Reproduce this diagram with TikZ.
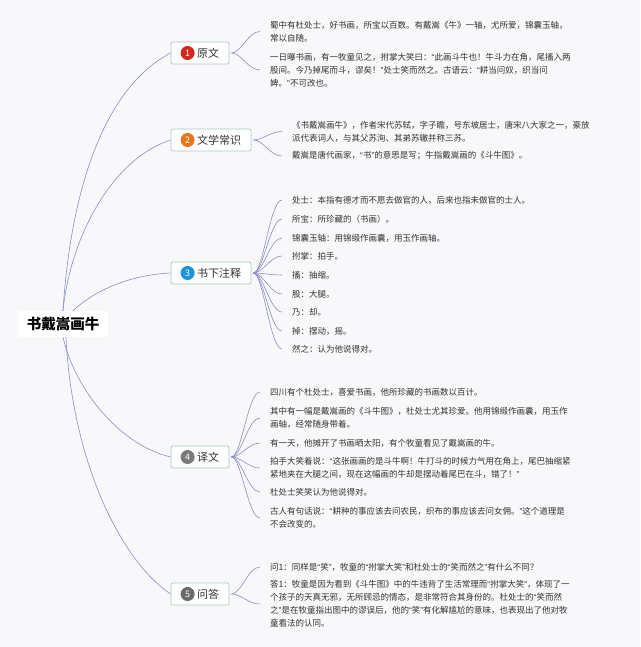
\documentclass[tikz,border=0pt]{standalone}
\usepackage{fontspec}
\setmainfont{Noto Sans CJK SC}
\newfontfamily\quotefont{Liberation Sans}
\newcommand{\myoq}{{\quotefont “}}
\newcommand{\mycq}{{\quotefont ”}}
\definecolor{linec}{HTML}{8A90C2}
\definecolor{boxc}{HTML}{A9CBC3}
\definecolor{textc}{HTML}{333333}
\definecolor{bgc}{HTML}{F8F8FA}
\definecolor{c1}{HTML}{D42A1E}
\definecolor{c2}{HTML}{E8761E}
\definecolor{c3}{HTML}{1B93DB}
\definecolor{c4}{HTML}{7A7A7A}
\definecolor{c5}{HTML}{6B6B6B}
\begin{document}
\begin{tikzpicture}[x=1pt,y=-1pt,
  conn/.style={draw=linec, line width=0.6pt},
  branch/.style={draw=boxc, fill=white, rounded corners=2pt, line width=0.8pt, inner xsep=10pt, inner ysep=0pt, minimum height=22pt, font=\fontsize{11}{13}\selectfont, text=textc},
  badge/.style={circle, inner sep=0pt, minimum size=14pt, text=white, font=\fontsize{9}{9}\selectfont},
  leaf/.style={anchor=west, align=left, inner sep=0pt, font=\fontsize{8.5}{13}\selectfont, text=textc},
]
\fill[bgc] (0,0) rectangle (640,647);
\useasboundingbox (0,0) rectangle (640,647);

% root
\node[fill=white, minimum width=90pt, minimum height=26pt, inner sep=0pt, text=black, font=\bfseries\fontsize{14.5}{16}\selectfont] (root) at (63,324) {书戴嵩画牛};

% branches
\node[branch] (b1) at (200,53) {\hspace{16pt}原文};
\node[badge, fill=c1] (n1) at ([xshift=17pt]b1.west) {1};
\node[branch] (b2) at (211,140) {\hspace{16pt}文学常识};
\node[badge, fill=c2] (n2) at ([xshift=17pt]b2.west) {2};
\node[branch] (b3) at (211,273) {\hspace{16pt}书下注释};
\node[badge, fill=c3] (n3) at ([xshift=17pt]b3.west) {3};
\node[branch] (b4) at (200,457) {\hspace{16pt}译文};
\node[badge, fill=c4] (n4) at ([xshift=17pt]b4.west) {4};
\node[branch] (b5) at (200,594) {\hspace{16pt}问答};
\node[badge, fill=c5] (n5) at ([xshift=17pt]b5.west) {5};

% root connectors
\draw[conn] (root.north) .. controls (70,200) and (100,90) .. (b1.west);
\draw[conn] (root.north) .. controls (70,240) and (110,160) .. (b2.west);
\draw[conn] ([xshift=10pt]root.north) .. controls (95,290) and (130,275) .. (b3.west);
\draw[conn] (root.south) .. controls (75,390) and (120,445) .. (b4.west);
\draw[conn] ([xshift=3pt]root.south) .. controls (72,460) and (120,560) .. (b5.west);

% leaves: 1
\node[leaf] (l11) at (270,31.5) {蜀中有杜处士，好书画，所宝以百数。有戴嵩《牛》一轴，尤所爱，锦囊玉轴，\\常以自随。};
\node[leaf] (l12) at (270,70) {一日曝书画，有一牧童见之，拊掌大笑曰：\myoq 此画斗牛也！牛斗力在角，尾搐入两\\股间。今乃掉尾而斗，谬矣！\mycq 处士笑而然之。古语云：\myoq 耕当问奴，织当问\\婢。\mycq 不可改也。};
% leaves: 2
\node[leaf] (l21) at (292,131.5) {《书戴嵩画牛》，作者宋代苏轼，字子瞻，号东坡居士，唐宋八大家之一，豪放\\派代表词人，与其父苏洵、其弟苏辙并称三苏。};
\node[leaf] (l22) at (292,156) {戴嵩是唐代画家，\myoq 书\mycq 的意思是写；牛指戴嵩画的《斗牛图》。};
% leaves: 3
\node[leaf] (l31) at (292,200) {处士：本指有德才而不愿去做官的人，后来也指未做官的士人。};
\node[leaf] (l32) at (292,219) {所宝：所珍藏的（书画）。};
\node[leaf] (l33) at (292,238) {锦囊玉轴：用锦缎作画囊，用玉作画轴。};
\node[leaf] (l34) at (292,256) {拊掌：拍手。};
\node[leaf] (l35) at (292,275) {搐：抽缩。};
\node[leaf] (l36) at (292,294) {股：大腿。};
\node[leaf] (l37) at (292,312) {乃：却。};
\node[leaf] (l38) at (292,331) {掉：摆动，摇。};
\node[leaf] (l39) at (292,349) {然之：认为他说得对。};
% leaves: 4
\node[leaf] (l41) at (270,392) {四川有个杜处士，喜爱书画，他所珍藏的书画数以百计。};
\node[leaf] (l42) at (270,418) {其中有一幅是戴嵩画的《斗牛图》，杜处士尤其珍爱。他用锦缎作画囊，用玉作\\画轴，经常随身带着。};
\node[leaf] (l43) at (270,443) {有一天，他摊开了书画晒太阳，有个牧童看见了戴嵩画的牛。};
\node[leaf] (l44) at (270,468) {拍手大笑着说：\myoq 这张画画的是斗牛啊！牛打斗的时候力气用在角上，尾巴抽缩紧\\紧地夹在大腿之间，现在这幅画的牛却是摆动着尾巴在斗，错了！\mycq};
\node[leaf] (l45) at (270,492) {杜处士笑笑认为他说得对。};
\node[leaf] (l46) at (270,518) {古人有句话说：\myoq 耕种的事应该去问农民，织布的事应该去问女佣。\mycq 这个道理是\\不会改变的。};
% leaves: 5
\node[leaf] (l51) at (270,567) {问1：同样是\myoq 笑\mycq ，牧童的\myoq 拊掌大笑\mycq 和杜处士的\myoq 笑而然之\mycq 有什么不同？};
\node[leaf] (l52) at (270,604) {答1：牧童是因为看到《斗牛图》中的牛违背了生活常理而\myoq 拊掌大笑\mycq ，体现了一\\个孩子的天真无邪，无所顾忌的情态，是非常符合其身份的。杜处士的\myoq 笑而然\\之\mycq 是在牧童指出图中的谬误后，他的\myoq 笑\mycq 有化解尴尬的意味，也表现出了他对牧\\童看法的认同。};

% leaf connectors
\foreach \b/\l in {b1/l11,b1/l12,b2/l21,b2/l22,b3/l31,b3/l32,b3/l33,b3/l34,b3/l35,b3/l36,b3/l37,b3/l38,b3/l39,b4/l41,b4/l42,b4/l43,b4/l44,b4/l45,b4/l46,b5/l51,b5/l52}
  \draw[conn] ([xshift=2pt]\b.east) .. controls +(10,0) and +(-12,0) .. ([xshift=-10pt]\l.west);
\end{tikzpicture}
\end{document}
